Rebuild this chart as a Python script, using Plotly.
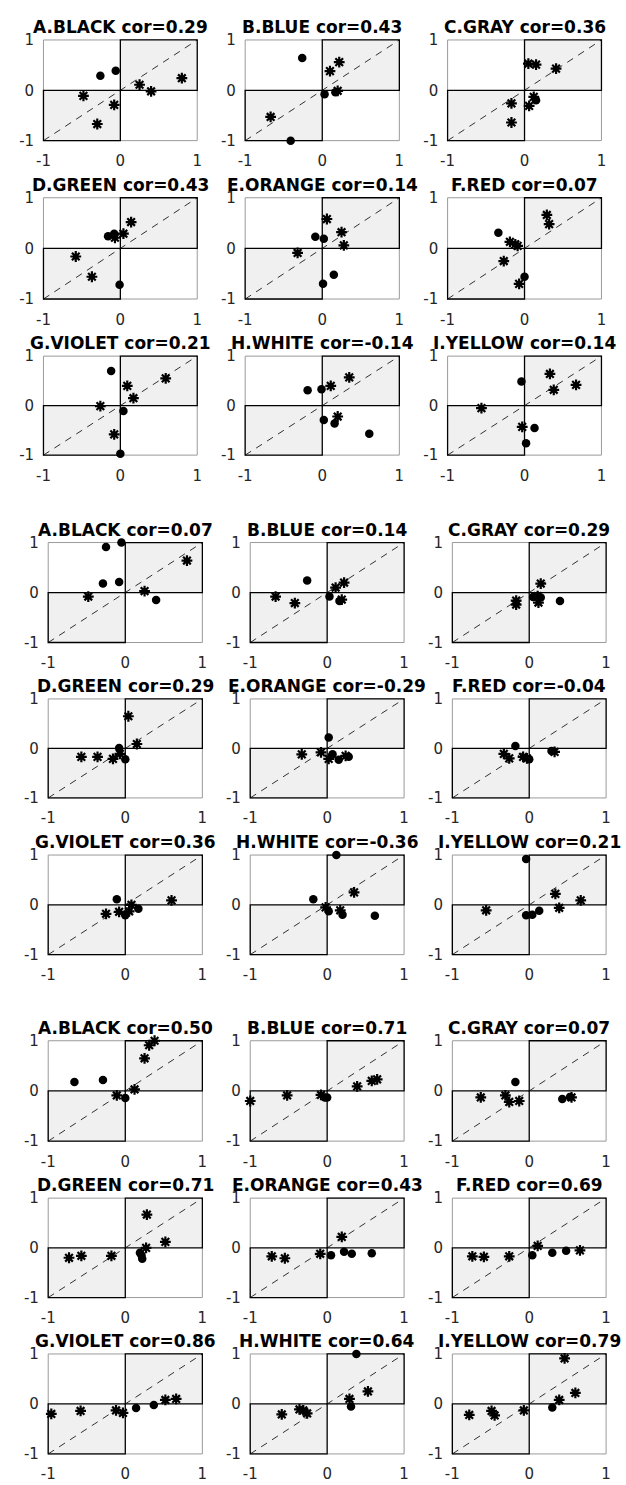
import plotly.graph_objects as go

# ---------------- data ----------------
NAMES = ["A.BLACK", "B.BLUE", "C.GRAY", "D.GREEN", "E.ORANGE", "F.RED",
         "G.VIOLET", "H.WHITE", "I.YELLOW"]
COR_G1 = ["0.29", "0.43", "0.36", "0.43", "0.14", "0.07", "0.21", "-0.14", "0.14"]
COR_G2 = ["0.07", "0.14", "0.29", "0.29", "-0.29", "-0.04", "0.36", "-0.36", "0.21"]
COR_G3 = ["0.50", "0.71", "0.07", "0.71", "0.43", "0.69", "0.86", "0.64", "0.79"]
TICKS = [-1, 0, 1]
TICK_TEXT = ["-1", "0", "1"]

# group 1
g1_black_x = [-0.26, -0.06, 0.25, 0.40, 0.80, -0.48, -0.08, -0.30]
g1_black_y = [0.29, 0.39, 0.11, -0.02, 0.24, -0.11, -0.29, -0.67]
g1_black_m = ["o", "o", "*", "*", "*", "*", "*", "*"]
g1_blue_x = [-0.26, 0.22, 0.10, 0.03, 0.17, 0.20, -0.67, -0.41]
g1_blue_y = [0.64, 0.56, 0.38, -0.08, -0.04, -0.01, -0.53, -1.0]
g1_blue_m = ["o", "*", "*", "o", "o", "*", "*", "o"]
g1_gray_x = [0.05, 0.15, 0.41, -0.17, -0.17, 0.12, 0.15, 0.06]
g1_gray_y = [0.53, 0.51, 0.43, -0.26, -0.64, -0.13, -0.20, -0.31]
g1_gray_m = ["*", "*", "*", "*", "*", "*", "o", "*"]
g1_green_x = [0.14, 0.04, -0.08, -0.16, -0.07, -0.58, -0.37, -0.01]
g1_green_y = [0.52, 0.29, 0.29, 0.24, 0.21, -0.16, -0.56, -0.72]
g1_green_m = ["*", "*", "o", "o", "*", "*", "*", "o"]
g1_orange_x = [0.06, -0.09, 0.02, 0.25, 0.28, -0.32, 0.15, 0.01]
g1_orange_y = [0.58, 0.23, 0.19, 0.32, 0.06, -0.09, -0.52, -0.70]
g1_orange_m = ["*", "o", "o", "*", "*", "*", "o", "o"]
g1_red_x = [0.29, 0.32, -0.34, -0.19, -0.12, -0.09, -0.27, 0.0, -0.07]
g1_red_y = [0.66, 0.48, 0.31, 0.13, 0.08, 0.05, -0.25, -0.56, -0.70]
g1_red_m = ["*", "*", "o", "*", "*", "*", "*", "o", "*"]
g1_violet_x = [-0.12, 0.59, 0.09, 0.17, -0.26, 0.04, -0.08, 0.0]
g1_violet_y = [0.70, 0.55, 0.40, 0.15, -0.01, -0.11, -0.58, -0.97]
g1_violet_m = ["o", "*", "*", "*", "*", "o", "*", "o"]
g1_white_x = [0.35, 0.11, -0.01, -0.19, 0.02, 0.20, 0.16, 0.61]
g1_white_y = [0.57, 0.40, 0.33, 0.31, -0.29, -0.22, -0.36, -0.57]
g1_white_m = ["*", "*", "o", "o", "o", "*", "o", "o"]
g1_yellow_x = [0.33, -0.04, 0.67, 0.38, -0.56, -0.03, 0.13, 0.02]
g1_yellow_y = [0.64, 0.49, 0.42, 0.32, -0.05, -0.43, -0.45, -0.76]
g1_yellow_m = ["*", "o", "*", "*", "*", "*", "o", "o"]

# group 2
g2_black_x = [-0.05, -0.25, 0.80, -0.29, -0.08, 0.25, 0.40, -0.48]
g2_black_y = [1.0, 0.91, 0.64, 0.18, 0.21, 0.03, -0.15, -0.08]
g2_black_m = ["o", "o", "*", "o", "o", "*", "o", "*"]
g2_blue_x = [-0.26, 0.22, 0.11, 0.03, 0.16, 0.19, -0.67, -0.42]
g2_blue_y = [0.24, 0.20, 0.10, -0.08, -0.17, -0.14, -0.08, -0.21]
g2_blue_m = ["o", "*", "*", "o", "o", "*", "*", "*"]
g2_gray_x = [0.15, -0.17, -0.17, 0.05, 0.11, 0.15, 0.12, 0.40]
g2_gray_y = [0.18, -0.16, -0.24, -0.09, -0.07, -0.10, -0.20, -0.17]
g2_gray_m = ["*", "*", "*", "o", "*", "o", "*", "o"]
g2_green_x = [0.04, 0.15, -0.08, -0.07, 0.0, -0.16, -0.57, -0.36]
g2_green_y = [0.65, 0.09, 0.01, -0.11, -0.22, -0.21, -0.17, -0.17]
g2_green_m = ["*", "*", "o", "*", "o", "*", "*", "*"]
g2_orange_x = [0.02, -0.33, -0.08, 0.07, 0.02, 0.15, 0.28, 0.24]
g2_orange_y = [0.22, -0.12, -0.08, -0.12, -0.21, -0.23, -0.17, -0.15]
g2_orange_m = ["o", "*", "*", "o", "*", "o", "o", "*"]
g2_red_x = [-0.18, -0.33, -0.26, -0.08, 0.0, 0.29, 0.33, -0.03]
g2_red_y = [0.05, -0.11, -0.20, -0.17, -0.22, -0.05, -0.07, -0.20]
g2_red_m = ["o", "*", "*", "*", "o", "o", "*", "*"]
g2_violet_x = [-0.11, 0.60, 0.08, -0.08, -0.25, 0.0, 0.05, 0.17]
g2_violet_y = [0.11, 0.09, 0.0, -0.14, -0.18, -0.21, -0.13, -0.08]
g2_violet_m = ["o", "*", "*", "*", "*", "o", "*", "o"]
g2_white_x = [0.12, 0.35, -0.18, -0.02, 0.02, 0.17, 0.20, 0.62]
g2_white_y = [1.0, 0.25, 0.11, -0.05, -0.13, -0.11, -0.20, -0.22]
g2_white_m = ["o", "*", "o", "*", "o", "*", "o", "o"]
g2_yellow_x = [-0.04, 0.34, 0.67, 0.39, -0.56, -0.04, 0.04, 0.13]
g2_yellow_y = [0.92, 0.22, 0.09, -0.06, -0.11, -0.21, -0.20, -0.12]
g2_yellow_m = ["o", "*", "*", "*", "*", "o", "o", "o"]

# group 3
g3_black_x = [0.38, 0.31, 0.25, -0.66, -0.29, 0.12, -0.11, 0.0]
g3_black_y = [1.0, 0.91, 0.65, 0.18, 0.22, 0.03, -0.09, -0.14]
g3_black_m = ["*", "*", "*", "o", "o", "*", "*", "o"]
g3_blue_x = [-1.0, -0.52, -0.08, -0.03, 0.0, 0.39, 0.58, 0.65]
g3_blue_y = [-0.20, -0.09, -0.08, -0.13, -0.13, 0.09, 0.20, 0.23]
g3_blue_m = ["*", "*", "*", "o", "o", "*", "*", "*"]
g3_gray_x = [-0.18, -0.63, -0.31, -0.26, -0.13, 0.43, 0.53, 0.55]
g3_gray_y = [0.18, -0.13, -0.09, -0.22, -0.20, -0.16, -0.12, -0.13]
g3_gray_m = ["o", "*", "*", "*", "*", "o", "o", "*"]
g3_green_x = [0.28, 0.52, 0.27, 0.19, 0.21, 0.22, -0.18, -0.57, -0.73]
g3_green_y = [0.67, 0.12, 0.0, -0.10, -0.15, -0.22, -0.16, -0.16, -0.20]
g3_green_m = ["*", "*", "*", "o", "o", "o", "*", "*", "*"]
g3_orange_x = [0.19, -0.09, 0.05, 0.22, 0.32, 0.58, -0.72, -0.55]
g3_orange_y = [0.22, -0.12, -0.15, -0.08, -0.12, -0.11, -0.17, -0.21]
g3_orange_m = ["*", "*", "o", "o", "o", "o", "*", "*"]
g3_red_x = [-0.74, -0.59, -0.26, 0.04, 0.11, 0.30, 0.48, 0.66]
g3_red_y = [-0.17, -0.18, -0.17, -0.15, 0.04, -0.10, -0.06, -0.05]
g3_red_m = ["*", "*", "*", "o", "*", "o", "o", "*"]
g3_violet_x = [-0.96, -0.58, -0.12, -0.03, 0.14, 0.37, 0.52, 0.66]
g3_violet_y = [-0.20, -0.14, -0.13, -0.18, -0.08, -0.02, 0.08, 0.10]
g3_violet_m = ["*", "*", "*", "*", "o", "o", "*", "*"]
g3_white_x = [0.38, 0.53, 0.29, 0.31, -0.59, -0.36, -0.31, -0.26]
g3_white_y = [1.0, 0.25, 0.10, -0.05, -0.21, -0.11, -0.13, -0.19]
g3_white_m = ["o", "*", "*", "o", "*", "*", "*", "*"]
g3_yellow_x = [0.46, 0.60, 0.39, 0.30, -0.07, -0.78, -0.49, -0.45]
g3_yellow_y = [0.91, 0.22, 0.08, -0.07, -0.13, -0.22, -0.14, -0.23]
g3_yellow_m = ["*", "*", "*", "o", "*", "*", "*", "*"]

GROUP1 = [(g1_black_x, g1_black_y, g1_black_m), (g1_blue_x, g1_blue_y, g1_blue_m),
          (g1_gray_x, g1_gray_y, g1_gray_m), (g1_green_x, g1_green_y, g1_green_m),
          (g1_orange_x, g1_orange_y, g1_orange_m), (g1_red_x, g1_red_y, g1_red_m),
          (g1_violet_x, g1_violet_y, g1_violet_m), (g1_white_x, g1_white_y, g1_white_m),
          (g1_yellow_x, g1_yellow_y, g1_yellow_m)]
GROUP2 = [(g2_black_x, g2_black_y, g2_black_m), (g2_blue_x, g2_blue_y, g2_blue_m),
          (g2_gray_x, g2_gray_y, g2_gray_m), (g2_green_x, g2_green_y, g2_green_m),
          (g2_orange_x, g2_orange_y, g2_orange_m), (g2_red_x, g2_red_y, g2_red_m),
          (g2_violet_x, g2_violet_y, g2_violet_m), (g2_white_x, g2_white_y, g2_white_m),
          (g2_yellow_x, g2_yellow_y, g2_yellow_m)]
GROUP3 = [(g3_black_x, g3_black_y, g3_black_m), (g3_blue_x, g3_blue_y, g3_blue_m),
          (g3_gray_x, g3_gray_y, g3_gray_m), (g3_green_x, g3_green_y, g3_green_m),
          (g3_orange_x, g3_orange_y, g3_orange_m), (g3_red_x, g3_red_y, g3_red_m),
          (g3_violet_x, g3_violet_y, g3_violet_m), (g3_white_x, g3_white_y, g3_white_m),
          (g3_yellow_x, g3_yellow_y, g3_yellow_m)]
GROUPS = [(GROUP1, COR_G1), (GROUP2, COR_G2), (GROUP3, COR_G3)]

# ---------------- layout (pixel boxes of the [-1,1] square) ----------------
W, H = 626, 1485
BOX_X = [
    [(38.9, 194.4), (242.9, 398.8), (447.6, 603.2)],
    [(43.7, 199.6), (248.0, 403.6), (452.4, 607.9)],
    [(43.7, 199.6), (248.0, 403.6), (452.4, 607.9)],
]
BOX_Y = [
    [(33.3, 135.0), (192.7, 295.0), (352.7, 452.7)],
    [(541.0, 642.0), (699.0, 799.0), (856.7, 957.3)],
    [(1044.3, 1145.7), (1203.3, 1303.7), (1360.7, 1461.7)],
]
PAD = 0.03
TITLE_FONT = "DejaVu Sans, Liberation Sans, Arial, sans-serif"
TICK_FONT = "DejaVu Sans, Liberation Sans, Arial, sans-serif"

fig = go.Figure()
shapes = []
annotations = []
layout_axes = {}

k = 0
for gi, (group, cors) in enumerate(GROUPS):
    for pi, (xs, ys, ms) in enumerate(group):
        k += 1
        r, c = divmod(pi, 3)
        x0, x1 = BOX_X[gi][c]
        y0, y1 = BOX_Y[gi][r]
        w, h = x1 - x0, y1 - y0
        xd = [(x0 - w * PAD / 2) / W, (x1 + w * PAD / 2) / W]
        yd = [1 - (y1 + h * PAD / 2) / H, 1 - (y0 - h * PAD / 2) / H]
        xa = "x" if k == 1 else f"x{k}"
        ya = "y" if k == 1 else f"y{k}"
        xkey = "xaxis" if k == 1 else f"xaxis{k}"
        ykey = "yaxis" if k == 1 else f"yaxis{k}"
        common = dict(range=[-1 - PAD, 1 + PAD], showgrid=False, zeroline=False,
                      showline=False, tickvals=TICKS, ticktext=TICK_TEXT, ticks="",
                      tickfont=dict(family=TICK_FONT, size=15, color="#262626"),
                      fixedrange=True)
        layout_axes[xkey] = dict(domain=xd, anchor=ya, ticklabelstandoff=8, **common)
        layout_axes[ykey] = dict(domain=yd, anchor=xa, ticklabelstandoff=6, **common)

        # axes box
        shapes.append(dict(type="rect", xref=xa, yref=ya, x0=-1, x1=1, y0=-1, y1=1,
                           line=dict(color="#9a9a9a", width=1), layer="below"))
        # shaded quadrants
        for qx0, qx1, qy0, qy1 in [(0, 1, 0, 1), (-1, 0, -1, 0)]:
            shapes.append(dict(type="rect", xref=xa, yref=ya, x0=qx0, x1=qx1, y0=qy0, y1=qy1,
                               fillcolor="#f0f0f0", line=dict(color="black", width=1.3),
                               layer="below"))
        # diagonal
        shapes.append(dict(type="line", xref=xa, yref=ya, x0=-1, y0=-1, x1=1, y1=1,
                           line=dict(color="black", width=0.8, dash="7px,6px"), layer="below"))

        cx = [x for x, m in zip(xs, ms) if m == "o"]
        cy = [y for y, m in zip(ys, ms) if m == "o"]
        sx = [x for x, m in zip(xs, ms) if m == "*"]
        sy = [y for y, m in zip(ys, ms) if m == "*"]
        fig.add_trace(go.Scatter(x=cx, y=cy, mode="markers", xaxis=xa, yaxis=ya,
                                 cliponaxis=False, showlegend=False,
                                 marker=dict(symbol="circle", size=8.5, color="black",
                                             line=dict(width=0))))
        fig.add_trace(go.Scatter(x=sx, y=sy, mode="markers", xaxis=xa, yaxis=ya,
                                 cliponaxis=False, showlegend=False,
                                 marker=dict(symbol="circle", size=5.5, color="black",
                                             line=dict(width=0))))
        fig.add_trace(go.Scatter(x=sx, y=sy, mode="markers", xaxis=xa, yaxis=ya,
                                 cliponaxis=False, showlegend=False,
                                 marker=dict(symbol="asterisk-open", size=9, color="black",
                                             line=dict(color="black", width=2.2))))

        annotations.append(dict(text=f"<b>{NAMES[pi]} cor={cors[pi]}</b>",
                                x=(x0 + x1) / 2 / W, y=1 - (y0 - 1) / H,
                                xref="paper", yref="paper", xanchor="center", yanchor="bottom",
                                showarrow=False,
                                font=dict(family=TITLE_FONT, size=17, color="black")))

fig.update_layout(width=W, height=H, margin=dict(l=0, r=0, t=0, b=0),
                  paper_bgcolor="white", plot_bgcolor="white",
                  shapes=shapes, annotations=annotations, showlegend=False,
                  **layout_axes)

fig.write_html("out.html", config={"displayModeBar": False},
               post_script="document.body.style.margin='0';document.body.style.overflow='hidden';")
